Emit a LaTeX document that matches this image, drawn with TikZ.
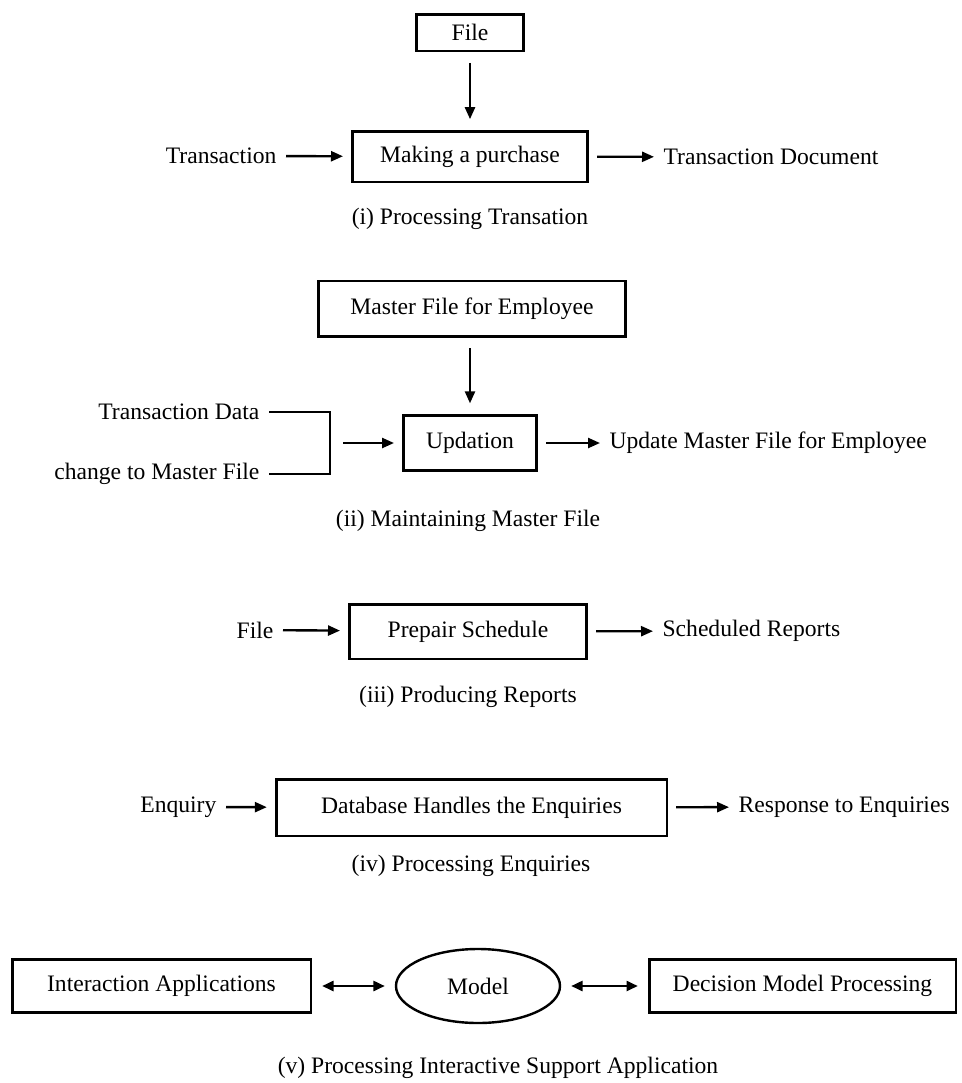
\documentclass[tikz,border=0pt]{standalone}
\usepackage{fontspec}
\setmainfont{Liberation Serif}
\usetikzlibrary{arrows.meta,shapes.geometric}

\begin{document}
\begin{tikzpicture}[x=0.75pt, y=-0.75pt, font=\fontsize{17.7}{21}\selectfont,
        box/.style={rectangle, draw, line width=2pt, inner sep=0pt},
        lbl/.style={inner sep=1pt},
        arr/.style={-{Triangle[length=9pt,width=7.5pt]}, line width=1.8pt, shorten <=6pt, shorten >=6pt},
        twoway/.style={{Triangle[length=8.5pt,width=7.5pt]}-{Triangle[length=8.5pt,width=7.5pt]}, line width=1.8pt, shorten <=7.5pt, shorten >=7.5pt}]
        \useasboundingbox (0, 0) rectangle (962, 1083);

        \node[box, minimum width=80pt, minimum height=27.5pt] (file) at (470, 32.5) {File};
        \node[box, minimum width=176.5pt, minimum height=38pt] (purchase) at (470, 156.5) {Making a purchase};
        \node[lbl, anchor=east] (trans) at (278, 156) {Transaction};
        \node[lbl, anchor=west] (transdoc) at (662, 157) {Transaction Document};
        \node[lbl] (capi) at (470, 219) {(i) Processing Transation};
        \draw[arr, shorten <=8pt, shorten >=8pt] (file) -- (purchase);
        \draw[arr] (trans) -- (purchase);
        \draw[arr] (purchase) -- (transdoc);

        \node[box, minimum width=230.5pt, minimum height=41.5pt] (master) at (472, 308.5) {Master File for Employee};
        \node[box, minimum width=100pt, minimum height=41.5pt] (updation) at (470, 443) {Updation};
        \node[lbl, anchor=east] (transdata) at (261, 412) {Transaction Data};
        \node[lbl, anchor=east] (change) at (261, 474) {change to Master File};
        \node[lbl, anchor=west] (updmaster) at (608, 443) {Update Master File for Employee};
        \node[lbl] (capii) at (468, 521) {(ii) Maintaining Master File};
        \coordinate (join) at (330, 443);
        \draw[line width=1.8pt, shorten <=6pt] (transdata.east) -| (join);
        \draw[line width=1.8pt, shorten <=6pt] (change.east) -| (join);
        \draw[arr, shorten <=8pt, shorten >=8pt] (master.south -| updation.north) -- (updation.north);
        \draw[arr, shorten <=10pt] (join) -- (updation);
        \draw[arr] (updation) -- (updmaster);

        \node[box, minimum width=178pt, minimum height=41pt] (schedule) at (468, 631.5) {Prepair Schedule};
        \node[lbl, anchor=east] (fileiii) at (275, 630) {File};
        \node[lbl, anchor=west] (reports) at (661, 631) {Scheduled Reports};
        \node[lbl] (capiii) at (468, 697) {(iii) Producing Reports};
        \draw[arr] (fileiii) -- (schedule);
        \draw[arr] (schedule) -- (reports);

        \node[box, minimum width=293pt, minimum height=42.5pt] (database) at (471.5, 807.5) {Database Handles the Enquiries};
        \node[lbl, anchor=east] (enquiry) at (218, 807) {Enquiry};
        \node[lbl, anchor=west] (response) at (737, 807) {Response to Enquiries};
        \node[lbl] (capiv) at (471, 866) {(iv) Processing Enquiries};
        \draw[arr] (enquiry) -- (database);
        \draw[arr] (database) -- (response);

        \node[box, minimum width=224pt, minimum height=40pt] (interact) at (161.5, 986) {Interaction Applications};
        \node[ellipse, draw, line width=1.8pt, inner sep=0pt, minimum width=123pt, minimum height=55.5pt] (model) at (478, 986) {Model};
        \node[box, minimum width=230pt, minimum height=40pt] (decision) at (802.5, 986) {Decision Model Processing};
        \node[lbl] (capv) at (498, 1068) {(v) Processing Interactive Support Application};
        \draw[twoway] (interact) -- (model);
        \draw[twoway] (model) -- (decision);
    \end{tikzpicture}
\end{document}
